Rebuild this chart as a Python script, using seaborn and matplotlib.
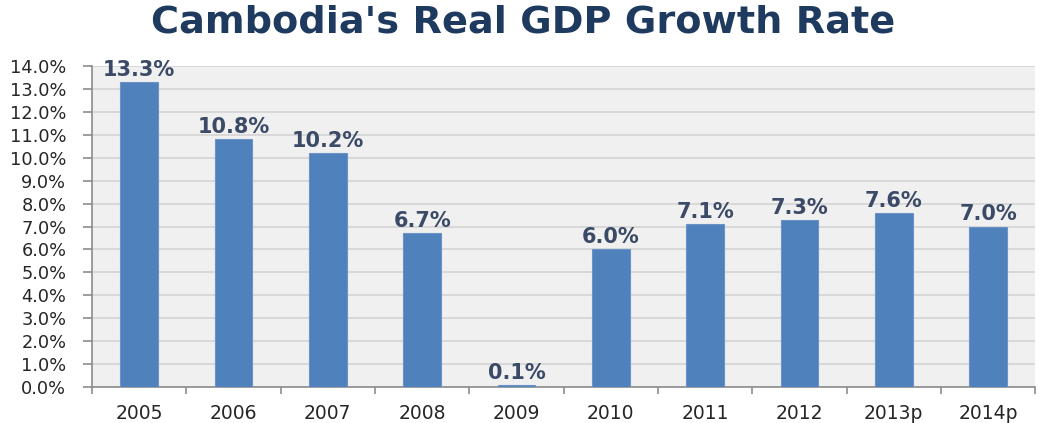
import matplotlib
matplotlib.use("Agg")
import matplotlib.pyplot as plt
from matplotlib.ticker import FixedLocator, FuncFormatter
import seaborn as sns
import pandas as pd

years = ["2005", "2006", "2007", "2008", "2009", "2010", "2011", "2012", "2013p", "2014p"]
growth = [13.3, 10.8, 10.2, 6.7, 0.1, 6.0, 7.1, 7.3, 7.6, 7.0]
y_ticks = [i * 1.0 for i in range(0, 15)]

df = pd.DataFrame({"year": years, "growth": growth})

sns.set_theme(style="white")
plt.rcParams["font.family"] = ["DejaVu Sans"]

fig = plt.figure(figsize=(10.41, 4.23), dpi=100)
ax = fig.add_axes([0.0884, 0.085, 0.906, 0.759])
ax.set_facecolor("#f0f0f0")

sns.barplot(data=df, x="year", y="growth", color="#4f81bd", width=0.4,
            saturation=1, edgecolor="#6c93c6", linewidth=0.8, ax=ax, zorder=3)

ax.set_ylim(0, 14)
ax.set_xlim(-0.5, len(years) - 0.5)
ax.yaxis.set_major_locator(FixedLocator(y_ticks))
ax.yaxis.set_major_formatter(FuncFormatter(lambda v, p: f"{v:.1f}%"))
ax.grid(axis="y", color="#d4d4d4", linewidth=1.2, zorder=0)
ax.set_axisbelow(True)

# category boundary ticks on the x axis
ax.xaxis.set_minor_locator(FixedLocator([i - 0.5 for i in range(len(years) + 1)]))
ax.tick_params(axis="x", which="major", length=0, pad=12.5, labelsize=13.5,
               labelcolor="#262626")
ax.tick_params(axis="x", which="minor", length=5, width=1.2, color="#8c8c8c",
               direction="out", bottom=True)
ax.tick_params(axis="y", length=6.5, width=1.2, color="#8c8c8c", direction="out",
               left=True, labelsize=12.8, labelcolor="#262626", pad=12)

for side in ("top", "right"):
    ax.spines[side].set_visible(False)
for side in ("left", "bottom"):
    ax.spines[side].set_color("#8c8c8c")
    ax.spines[side].set_linewidth(1.2)

ax.set_xlabel("")
ax.set_ylabel("")

for bar, val in zip(ax.patches, growth):
    ax.annotate(f"{val:.1f}%", (bar.get_x() + bar.get_width() / 2, val),
                xytext=(0, 1.5), textcoords="offset points", ha="center", va="bottom",
                fontsize=15, fontweight="bold", color="#3b4a66", zorder=5)

fig.text(0.503, 0.922, "Cambodia's Real GDP Growth Rate", ha="center", va="baseline",
         fontsize=27.5, fontweight="bold", color="#1f3a5f")

fig.savefig("out.png", dpi=100)
